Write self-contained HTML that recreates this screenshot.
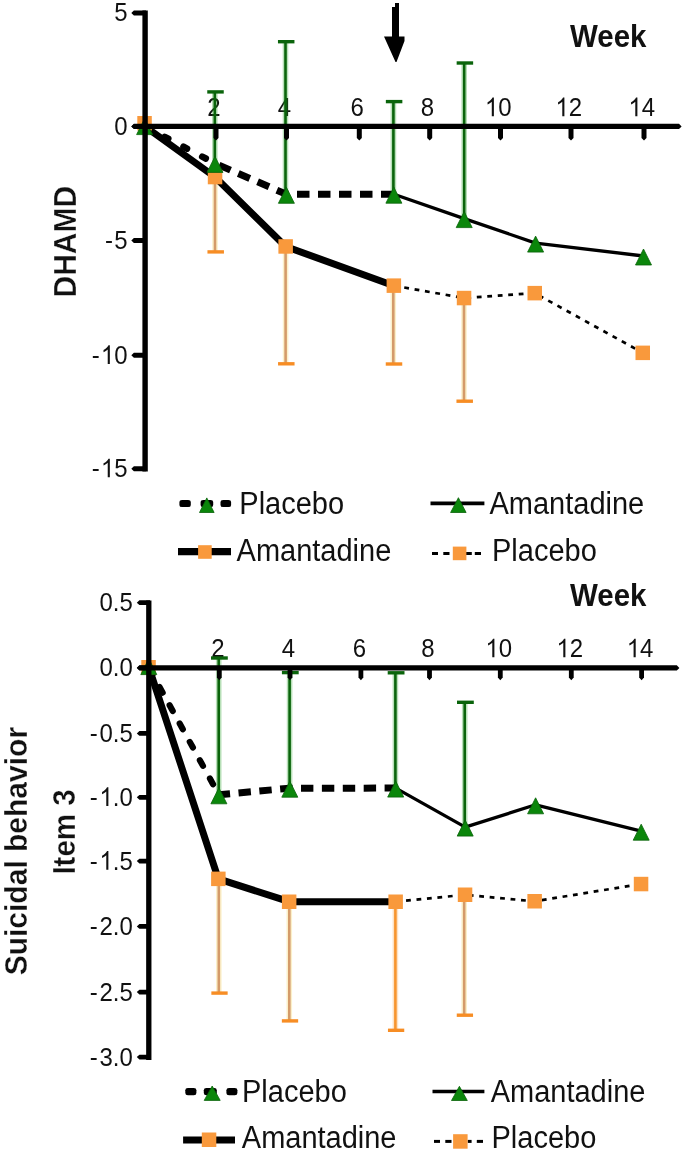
<!DOCTYPE html>
<html><head><meta charset="utf-8"><style>
html,body{margin:0;padding:0;background:#fff;width:685px;height:1154px;overflow:hidden;}
svg{display:block;will-change:transform;}
text{font-family:"Liberation Sans",sans-serif;}
</style></head><body>
<svg width="685" height="1154" viewBox="0 0 685 1154">
<rect width="685" height="1154" fill="#fff"/>
<path transform="translate(628.45 116.2) scale(0.01172,-0.01266)" d="M763 0L583 0L583 1147Q518 1085 412 1023Q307 961 223 930L223 1104Q374 1175 487 1276Q600 1377 647 1472L763 1472Z" fill="#111"/><text transform="translate(641.8 116.2) scale(1.0,1.08)" font-size="24" text-anchor="start" fill="#111">4</text>
<path transform="translate(555.45 116.2) scale(0.01172,-0.01266)" d="M763 0L583 0L583 1147Q518 1085 412 1023Q307 961 223 930L223 1104Q374 1175 487 1276Q600 1377 647 1472L763 1472Z" fill="#111"/><text transform="translate(568.8 116.2) scale(1.0,1.08)" font-size="24" text-anchor="start" fill="#111">2</text>
<path transform="translate(484.95 116.2) scale(0.01172,-0.01266)" d="M763 0L583 0L583 1147Q518 1085 412 1023Q307 961 223 930L223 1104Q374 1175 487 1276Q600 1377 647 1472L763 1472Z" fill="#111"/><text transform="translate(498.3 116.2) scale(1.0,1.08)" font-size="24" text-anchor="start" fill="#111">0</text>
<text transform="translate(420.83 116.2) scale(1.0,1.08)" font-size="24" text-anchor="start" fill="#111">8</text>
<text transform="translate(350.43 116.2) scale(1.0,1.08)" font-size="24" text-anchor="start" fill="#111">6</text>
<text transform="translate(277.63 116.2) scale(1.0,1.08)" font-size="24" text-anchor="start" fill="#111">4</text>
<text transform="translate(207.13 116.2) scale(1.0,1.08)" font-size="24" text-anchor="start" fill="#111">2</text>
<line x1="214.8" y1="164.4" x2="214.8" y2="91.9" stroke="#1f9a1f" stroke-opacity="0.32" stroke-width="5.6"/><line x1="214.8" y1="164.4" x2="214.8" y2="91.9" stroke="#0a640b" stroke-width="2.6"/><line x1="207.25" y1="91.9" x2="223.75" y2="91.9" stroke="#0a640b" stroke-width="3.4"/>
<line x1="285.5" y1="195.3" x2="285.5" y2="41.7" stroke="#1f9a1f" stroke-opacity="0.32" stroke-width="5.6"/><line x1="285.5" y1="195.3" x2="285.5" y2="41.7" stroke="#0a640b" stroke-width="2.6"/><line x1="277.95" y1="41.7" x2="294.45" y2="41.7" stroke="#0a640b" stroke-width="3.4"/>
<line x1="393.4" y1="195.2" x2="393.4" y2="101.6" stroke="#1f9a1f" stroke-opacity="0.32" stroke-width="5.6"/><line x1="393.4" y1="195.2" x2="393.4" y2="101.6" stroke="#0a640b" stroke-width="2.6"/><line x1="385.85" y1="101.6" x2="402.35" y2="101.6" stroke="#0a640b" stroke-width="3.4"/>
<line x1="464.2" y1="219.6" x2="464.2" y2="63" stroke="#1f9a1f" stroke-opacity="0.32" stroke-width="5.6"/><line x1="464.2" y1="219.6" x2="464.2" y2="63" stroke="#0a640b" stroke-width="2.6"/><line x1="456.65" y1="63" x2="473.15" y2="63" stroke="#0a640b" stroke-width="3.4"/>
<line x1="215" y1="177" x2="215" y2="251.9" stroke="#f2cc50" stroke-opacity="0.3" stroke-width="5.6"/><line x1="215" y1="177" x2="215" y2="251.9" stroke="#d49b6a" stroke-width="2.6"/><line x1="207.45" y1="251.9" x2="223.95" y2="251.9" stroke="#f78d24" stroke-width="3.4"/>
<line x1="285.6" y1="246.5" x2="285.6" y2="363.8" stroke="#f2cc50" stroke-opacity="0.3" stroke-width="5.6"/><line x1="285.6" y1="246.5" x2="285.6" y2="363.8" stroke="#d49b6a" stroke-width="2.6"/><line x1="278.05" y1="363.8" x2="294.55" y2="363.8" stroke="#f78d24" stroke-width="3.4"/>
<line x1="393.3" y1="285.7" x2="393.3" y2="364" stroke="#f2cc50" stroke-opacity="0.3" stroke-width="5.6"/><line x1="393.3" y1="285.7" x2="393.3" y2="364" stroke="#d49b6a" stroke-width="2.6"/><line x1="385.75" y1="364" x2="402.25" y2="364" stroke="#f78d24" stroke-width="3.4"/>
<line x1="464" y1="298" x2="464" y2="401.2" stroke="#f2cc50" stroke-opacity="0.3" stroke-width="5.6"/><line x1="464" y1="298" x2="464" y2="401.2" stroke="#d49b6a" stroke-width="2.6"/><line x1="456.45" y1="401.2" x2="472.95" y2="401.2" stroke="#f78d24" stroke-width="3.4"/>
<polyline points="145.0,126.5 215.0,163.4" fill="none" stroke="#000" stroke-width="6.6" stroke-linejoin="round" stroke-linecap="round" stroke-dasharray="4 17.2" stroke-dashoffset="-1.1"/>
<polyline points="215.0,163.4 286.4,194.3 393.9,194.2" fill="none" stroke="#000" stroke-width="7" stroke-linejoin="round" stroke-linecap="butt" stroke-dasharray="12.5 8.5" stroke-dashoffset="16.6"/>
<polyline points="393.9,194.2 464.2,218.6 535.6,243.1 643.5,256.0" fill="none" stroke="#000" stroke-width="3.3" stroke-linejoin="round" stroke-linecap="butt"/>
<polyline points="145.0,126.5 215.0,177.0 285.6,246.5 393.9,285.7" fill="none" stroke="#000" stroke-width="7" stroke-linejoin="round" stroke-linecap="butt"/>
<polyline points="393.9,285.7 464.0,298.0 534.7,293.1 642.8,352.8" fill="none" stroke="#000" stroke-width="2.7" stroke-linejoin="round" stroke-linecap="butt" stroke-dasharray="4.8 5.7"/>
<rect x="137.3" y="116.0" width="14.5" height="14.5" fill="#f9993c"/>
<rect x="207.8" y="169.8" width="14.5" height="14.5" fill="#f9993c"/>
<rect x="278.4" y="239.2" width="14.5" height="14.5" fill="#f9993c"/>
<rect x="386.6" y="278.4" width="14.5" height="14.5" fill="#f9993c"/>
<rect x="456.8" y="290.8" width="14.5" height="14.5" fill="#f9993c"/>
<rect x="527.5" y="285.9" width="14.5" height="14.5" fill="#f9993c"/>
<rect x="635.5" y="345.6" width="14.5" height="14.5" fill="#f9993c"/>
<polygon points="144.6,118.6 136.6,134.6 152.6,134.6" fill="#0b860b" stroke="#096209" stroke-width="0.8" stroke-linejoin="miter"/>
<polygon points="215.0,156.4 207.0,172.4 223.0,172.4" fill="#0b860b" stroke="#096209" stroke-width="0.8" stroke-linejoin="miter"/>
<polygon points="286.4,187.3 278.4,203.3 294.4,203.3" fill="#0b860b" stroke="#096209" stroke-width="0.8" stroke-linejoin="miter"/>
<polygon points="393.9,187.2 385.9,203.2 401.9,203.2" fill="#0b860b" stroke="#096209" stroke-width="0.8" stroke-linejoin="miter"/>
<polygon points="464.2,211.6 456.2,227.6 472.2,227.6" fill="#0b860b" stroke="#096209" stroke-width="0.8" stroke-linejoin="miter"/>
<polygon points="535.6,236.1 527.6,252.1 543.6,252.1" fill="#0b860b" stroke="#096209" stroke-width="0.8" stroke-linejoin="miter"/>
<polygon points="643.5,249.0 635.5,265.0 651.5,265.0" fill="#0b860b" stroke="#096209" stroke-width="0.8" stroke-linejoin="miter"/>
<line x1="145.1" y1="10.6" x2="145.1" y2="471.6" stroke="#000" stroke-width="5.4"/>
<path d="M133.90,123.80 L679.00,123.80 L681.60,126.40 L679.00,129.00 L133.90,129.00 L131.30,126.40 Z" fill="#000"/>
<path d="M146,10.55 L146,15.45 L133.90,15.45 L131.30,13.00 L133.90,10.55 Z" fill="#000"/>
<text transform="translate(114.25 20.6) scale(1.0,1.08)" font-size="24" text-anchor="start" fill="#111">5</text>
<path d="M146,123.95 L146,128.85 L133.90,128.85 L131.30,126.40 L133.90,123.95 Z" fill="#000"/>
<text transform="translate(114.25 135.0) scale(1.0,1.08)" font-size="24" text-anchor="start" fill="#111">0</text>
<path d="M146,238.05 L146,242.95 L133.90,242.95 L131.30,240.50 L133.90,238.05 Z" fill="#000"/>
<text transform="translate(105.06 249.1) scale(1.0,1.08)" font-size="24" text-anchor="start" fill="#111">-</text><text transform="translate(114.25 249.1) scale(1.0,1.08)" font-size="24" text-anchor="start" fill="#111">5</text>
<path d="M146,352.85 L146,357.75 L133.90,357.75 L131.30,355.30 L133.90,352.85 Z" fill="#000"/>
<text transform="translate(91.71 363.90000000000003) scale(1.0,1.08)" font-size="24" text-anchor="start" fill="#111">-</text><path transform="translate(100.90 363.90000000000003) scale(0.01172,-0.01266)" d="M763 0L583 0L583 1147Q518 1085 412 1023Q307 961 223 930L223 1104Q374 1175 487 1276Q600 1377 647 1472L763 1472Z" fill="#111"/><text transform="translate(114.25 363.90000000000003) scale(1.0,1.08)" font-size="24" text-anchor="start" fill="#111">0</text>
<path d="M146,466.25 L146,471.15 L133.90,471.15 L131.30,468.70 L133.90,466.25 Z" fill="#000"/>
<text transform="translate(91.71 477.3) scale(1.0,1.08)" font-size="24" text-anchor="start" fill="#111">-</text><path transform="translate(100.90 477.3) scale(0.01172,-0.01266)" d="M763 0L583 0L583 1147Q518 1085 412 1023Q307 961 223 930L223 1104Q374 1175 487 1276Q600 1377 647 1472L763 1472Z" fill="#111"/><text transform="translate(114.25 477.3) scale(1.0,1.08)" font-size="24" text-anchor="start" fill="#111">5</text>
<path d="M213.50,126 L218.50,126 L218.50,138.00 L216.00,140.60 L213.50,138.00 Z" fill="#000"/>
<path d="M284.00,126 L289.00,126 L289.00,138.00 L286.50,140.60 L284.00,138.00 Z" fill="#000"/>
<path d="M356.80,126 L361.80,126 L361.80,138.00 L359.30,140.60 L356.80,138.00 Z" fill="#000"/>
<path d="M427.20,126 L432.20,126 L432.20,138.00 L429.70,140.60 L427.20,138.00 Z" fill="#000"/>
<path d="M498.00,126 L503.00,126 L503.00,138.00 L500.50,140.60 L498.00,138.00 Z" fill="#000"/>
<path d="M568.50,126 L573.50,126 L573.50,138.00 L571.00,140.60 L568.50,138.00 Z" fill="#000"/>
<path d="M641.50,126 L646.50,126 L646.50,138.00 L644.00,140.60 L641.50,138.00 Z" fill="#000"/>
<text transform="translate(570 47.3) scale(1.0,1.06)" font-size="29.5" text-anchor="start" font-weight="bold" fill="#111">Week</text>
<text transform="translate(76 297.5) rotate(-90) scale(1.0,1.07)" font-size="30" text-anchor="start" font-weight="bold" stroke="#fff" stroke-width="0.3" fill="#111">DHAMD</text>
<path d="M392,7 L395,7 L395,3 L399,3 L399,36.5 L404.5,36.5 L404.5,41 L396.5,62 L395.5,62 L384,36.5 L392,36.5 Z" fill="#000"/>
<rect x="179.4" y="499.90" width="11.40" height="7.2" rx="2.6" ry="2.2" fill="#000"/>
<rect x="200.6" y="499.90" width="12.60" height="7.2" rx="2.6" ry="2.2" fill="#000"/>
<rect x="220.5" y="499.90" width="10.60" height="7.2" rx="2.6" ry="2.2" fill="#000"/>
<polygon points="206.8,497.9 199.5,512.5 214.1,512.5" fill="#0b860b" stroke="#096209" stroke-width="0.8" stroke-linejoin="miter"/>
<text transform="translate(239.3 514) scale(1.0,1.05)" font-size="29" text-anchor="start" fill="#111">Placebo</text>
<line x1="430.5" y1="503.4" x2="484.4" y2="503.4" stroke="#000" stroke-width="3.6"/>
<polygon points="458.4,497.7 450.6,512.5 466.1,512.5" fill="#0b860b" stroke="#096209" stroke-width="0.8" stroke-linejoin="miter"/>
<text transform="translate(489.5 514) scale(1.0,1.05)" font-size="29" text-anchor="start" fill="#111">Amantadine</text>
<line x1="178" y1="551.7" x2="231" y2="551.7" stroke="#000" stroke-width="7.2"/>
<rect x="198.1" y="545.2" width="13.6" height="13.6" fill="#f9993c"/>
<text transform="translate(236.6 561.3) scale(1.0,1.05)" font-size="29" text-anchor="start" fill="#111">Amantadine</text>
<line x1="432" y1="553.5" x2="438" y2="553.5" stroke="#000" stroke-width="3.0"/>
<line x1="443.3" y1="553.5" x2="449.5" y2="553.5" stroke="#000" stroke-width="3.0"/>
<line x1="465.7" y1="553.5" x2="471.8" y2="553.5" stroke="#000" stroke-width="3.0"/>
<line x1="474.8" y1="553.5" x2="481" y2="553.5" stroke="#000" stroke-width="3.0"/>
<rect x="452.8" y="546.6" width="13.6" height="13.6" fill="#f9993c"/>
<text transform="translate(492 561.3) scale(1.0,1.05)" font-size="29" text-anchor="start" fill="#111">Placebo</text>
<path transform="translate(626.75 657.3) scale(0.01172,-0.01266)" d="M763 0L583 0L583 1147Q518 1085 412 1023Q307 961 223 930L223 1104Q374 1175 487 1276Q600 1377 647 1472L763 1472Z" fill="#111"/><text transform="translate(640.1 657.3) scale(1.0,1.08)" font-size="24" text-anchor="start" fill="#111">4</text>
<path transform="translate(556.45 657.3) scale(0.01172,-0.01266)" d="M763 0L583 0L583 1147Q518 1085 412 1023Q307 961 223 930L223 1104Q374 1175 487 1276Q600 1377 647 1472L763 1472Z" fill="#111"/><text transform="translate(569.8 657.3) scale(1.0,1.08)" font-size="24" text-anchor="start" fill="#111">2</text>
<path transform="translate(485.45 657.3) scale(0.01172,-0.01266)" d="M763 0L583 0L583 1147Q518 1085 412 1023Q307 961 223 930L223 1104Q374 1175 487 1276Q600 1377 647 1472L763 1472Z" fill="#111"/><text transform="translate(498.8 657.3) scale(1.0,1.08)" font-size="24" text-anchor="start" fill="#111">0</text>
<text transform="translate(421.33 657.3) scale(1.0,1.08)" font-size="24" text-anchor="start" fill="#111">8</text>
<text transform="translate(352.73 657.3) scale(1.0,1.08)" font-size="24" text-anchor="start" fill="#111">6</text>
<text transform="translate(281.83 657.3) scale(1.0,1.08)" font-size="24" text-anchor="start" fill="#111">4</text>
<text transform="translate(211.13 657.3) scale(1.0,1.08)" font-size="24" text-anchor="start" fill="#111">2</text>
<line x1="218.7" y1="795.8" x2="218.7" y2="658" stroke="#1f9a1f" stroke-opacity="0.32" stroke-width="5.6"/><line x1="218.7" y1="795.8" x2="218.7" y2="658" stroke="#0a640b" stroke-width="2.6"/><line x1="211.00" y1="658" x2="227.80" y2="658" stroke="#0a640b" stroke-width="3.4"/>
<line x1="289.6" y1="789.2" x2="289.6" y2="672.6" stroke="#1f9a1f" stroke-opacity="0.32" stroke-width="5.6"/><line x1="289.6" y1="789.2" x2="289.6" y2="672.6" stroke="#0a640b" stroke-width="2.6"/><line x1="281.90" y1="672.6" x2="298.70" y2="672.6" stroke="#0a640b" stroke-width="3.4"/>
<line x1="395.4" y1="789.1" x2="395.4" y2="672.8" stroke="#1f9a1f" stroke-opacity="0.32" stroke-width="5.6"/><line x1="395.4" y1="789.1" x2="395.4" y2="672.8" stroke="#0a640b" stroke-width="2.6"/><line x1="387.70" y1="672.8" x2="404.50" y2="672.8" stroke="#0a640b" stroke-width="3.4"/>
<line x1="464.7" y1="828.1" x2="464.7" y2="702.3" stroke="#1f9a1f" stroke-opacity="0.32" stroke-width="5.6"/><line x1="464.7" y1="828.1" x2="464.7" y2="702.3" stroke="#0a640b" stroke-width="2.6"/><line x1="457.00" y1="702.3" x2="473.80" y2="702.3" stroke="#0a640b" stroke-width="3.4"/>
<line x1="218.8" y1="878.9" x2="218.8" y2="993.1" stroke="#f2cc50" stroke-opacity="0.3" stroke-width="5.6"/><line x1="218.8" y1="878.9" x2="218.8" y2="993.1" stroke="#d49b6a" stroke-width="2.6"/><line x1="211.35" y1="993.1" x2="227.65" y2="993.1" stroke="#f78d24" stroke-width="3.4"/>
<line x1="289.3" y1="901.7" x2="289.3" y2="1020.9" stroke="#f2cc50" stroke-opacity="0.3" stroke-width="5.6"/><line x1="289.3" y1="901.7" x2="289.3" y2="1020.9" stroke="#d49b6a" stroke-width="2.6"/><line x1="281.85" y1="1020.9" x2="298.15" y2="1020.9" stroke="#f78d24" stroke-width="3.4"/>
<line x1="395.4" y1="901.7" x2="395.4" y2="1030.3" stroke="#f7a040" stroke-opacity="0.3" stroke-width="5.6"/><line x1="395.4" y1="901.7" x2="395.4" y2="1030.3" stroke="#f7952e" stroke-width="2.6"/><line x1="387.95" y1="1030.3" x2="404.25" y2="1030.3" stroke="#f78d24" stroke-width="3.4"/>
<line x1="464.2" y1="894.8" x2="464.2" y2="1015.2" stroke="#f2cc50" stroke-opacity="0.3" stroke-width="5.6"/><line x1="464.2" y1="894.8" x2="464.2" y2="1015.2" stroke="#d49b6a" stroke-width="2.6"/><line x1="456.75" y1="1015.2" x2="473.05" y2="1015.2" stroke="#f78d24" stroke-width="3.4"/>
<polyline points="149.0,667.8 218.9,794.8" fill="none" stroke="#000" stroke-width="6.2" stroke-linejoin="round" stroke-linecap="round" stroke-dasharray="6.5 14.4" stroke-dashoffset="-0.95"/>
<polyline points="218.9,794.8 289.8,788.2 395.7,788.1" fill="none" stroke="#000" stroke-width="7" stroke-linejoin="round" stroke-linecap="butt" stroke-dasharray="12.4 8.5" stroke-dashoffset="1.2"/>
<polyline points="395.7,788.1 465.2,827.1 535.6,804.8 641.2,831.2" fill="none" stroke="#000" stroke-width="3.3" stroke-linejoin="round" stroke-linecap="butt"/>
<polyline points="149.0,667.8 218.3,878.9 289.2,901.7 395.6,901.7" fill="none" stroke="#000" stroke-width="7" stroke-linejoin="round" stroke-linecap="butt"/>
<polyline points="395.6,901.7 465.0,894.8 534.6,901.3 641.0,884.0" fill="none" stroke="#000" stroke-width="2.7" stroke-linejoin="round" stroke-linecap="butt" stroke-dasharray="4.8 5.7"/>
<rect x="141.3" y="660.0" width="14.5" height="14.5" fill="#f9993c"/>
<rect x="211.1" y="871.6" width="14.5" height="14.5" fill="#f9993c"/>
<rect x="281.9" y="894.5" width="14.5" height="14.5" fill="#f9993c"/>
<rect x="388.4" y="894.5" width="14.5" height="14.5" fill="#f9993c"/>
<rect x="457.8" y="887.5" width="14.5" height="14.5" fill="#f9993c"/>
<rect x="527.4" y="894.0" width="14.5" height="14.5" fill="#f9993c"/>
<rect x="633.8" y="876.8" width="14.5" height="14.5" fill="#f9993c"/>
<polygon points="148.8,658.6 140.8,674.6 156.8,674.6" fill="#0b860b" stroke="#096209" stroke-width="0.8" stroke-linejoin="miter"/>
<polygon points="218.9,787.8 210.9,803.8 226.9,803.8" fill="#0b860b" stroke="#096209" stroke-width="0.8" stroke-linejoin="miter"/>
<polygon points="289.8,781.2 281.8,797.2 297.8,797.2" fill="#0b860b" stroke="#096209" stroke-width="0.8" stroke-linejoin="miter"/>
<polygon points="395.7,781.1 387.7,797.1 403.7,797.1" fill="#0b860b" stroke="#096209" stroke-width="0.8" stroke-linejoin="miter"/>
<polygon points="465.2,820.1 457.2,836.1 473.2,836.1" fill="#0b860b" stroke="#096209" stroke-width="0.8" stroke-linejoin="miter"/>
<polygon points="535.6,797.8 527.6,813.8 543.6,813.8" fill="#0b860b" stroke="#096209" stroke-width="0.8" stroke-linejoin="miter"/>
<polygon points="641.2,824.2 633.2,840.2 649.2,840.2" fill="#0b860b" stroke="#096209" stroke-width="0.8" stroke-linejoin="miter"/>
<line x1="148.8" y1="600.5" x2="148.8" y2="1060" stroke="#000" stroke-width="5.3"/>
<path d="M139.40,665.25 L676.80,665.25 L679.40,667.90 L676.80,670.55 L139.40,670.55 L136.80,667.90 Z" fill="#000"/>
<path d="M150,600.30 L150,605.10 L139.40,605.10 L136.80,602.70 L139.40,600.30 Z" fill="#000"/>
<text transform="translate(99.44 611.3000000000001) scale(1.0,1.08)" font-size="24" text-anchor="start" fill="#111">0.5</text>
<path d="M150,665.40 L150,670.20 L139.40,670.20 L136.80,667.80 L139.40,665.40 Z" fill="#000"/>
<text transform="translate(99.44 676.4) scale(1.0,1.08)" font-size="24" text-anchor="start" fill="#111">0.0</text>
<path d="M150,731.00 L150,735.80 L139.40,735.80 L136.80,733.40 L139.40,731.00 Z" fill="#000"/>
<text transform="translate(89.84 742.0) scale(1.0,1.08)" font-size="24" text-anchor="start" fill="#111">-</text><text transform="translate(99.44 742.0) scale(1.0,1.08)" font-size="24" text-anchor="start" fill="#111">0.5</text>
<path d="M150,794.90 L150,799.70 L139.40,799.70 L136.80,797.30 L139.40,794.90 Z" fill="#000"/>
<text transform="translate(89.84 805.9) scale(1.0,1.08)" font-size="24" text-anchor="start" fill="#111">-</text><path transform="translate(99.44 805.9) scale(0.01172,-0.01266)" d="M763 0L583 0L583 1147Q518 1085 412 1023Q307 961 223 930L223 1104Q374 1175 487 1276Q600 1377 647 1472L763 1472Z" fill="#111"/><text transform="translate(112.78 805.9) scale(1.0,1.08)" font-size="24" text-anchor="start" fill="#111">.0</text>
<path d="M150,858.70 L150,863.50 L139.40,863.50 L136.80,861.10 L139.40,858.70 Z" fill="#000"/>
<text transform="translate(89.84 869.7) scale(1.0,1.08)" font-size="24" text-anchor="start" fill="#111">-</text><path transform="translate(99.44 869.7) scale(0.01172,-0.01266)" d="M763 0L583 0L583 1147Q518 1085 412 1023Q307 961 223 930L223 1104Q374 1175 487 1276Q600 1377 647 1472L763 1472Z" fill="#111"/><text transform="translate(112.78 869.7) scale(1.0,1.08)" font-size="24" text-anchor="start" fill="#111">.5</text>
<path d="M150,924.00 L150,928.80 L139.40,928.80 L136.80,926.40 L139.40,924.00 Z" fill="#000"/>
<text transform="translate(89.84 935.0) scale(1.0,1.08)" font-size="24" text-anchor="start" fill="#111">-</text><text transform="translate(99.44 935.0) scale(1.0,1.08)" font-size="24" text-anchor="start" fill="#111">2.0</text>
<path d="M150,989.70 L150,994.50 L139.40,994.50 L136.80,992.10 L139.40,989.70 Z" fill="#000"/>
<text transform="translate(89.84 1000.7) scale(1.0,1.08)" font-size="24" text-anchor="start" fill="#111">-</text><text transform="translate(99.44 1000.7) scale(1.0,1.08)" font-size="24" text-anchor="start" fill="#111">2.5</text>
<path d="M150,1054.70 L150,1059.50 L139.40,1059.50 L136.80,1057.10 L139.40,1054.70 Z" fill="#000"/>
<text transform="translate(89.84 1065.6999999999998) scale(1.0,1.08)" font-size="24" text-anchor="start" fill="#111">-</text><text transform="translate(99.44 1065.6999999999998) scale(1.0,1.08)" font-size="24" text-anchor="start" fill="#111">3.0</text>
<path d="M216.90,667 L221.70,667 L221.70,677.60 L219.30,680.20 L216.90,677.60 Z" fill="#000"/>
<path d="M287.60,667 L292.40,667 L292.40,677.60 L290.00,680.20 L287.60,677.60 Z" fill="#000"/>
<path d="M358.50,667 L363.30,667 L363.30,677.60 L360.90,680.20 L358.50,677.60 Z" fill="#000"/>
<path d="M427.10,667 L431.90,667 L431.90,677.60 L429.50,680.20 L427.10,677.60 Z" fill="#000"/>
<path d="M497.90,667 L502.70,667 L502.70,677.60 L500.30,680.20 L497.90,677.60 Z" fill="#000"/>
<path d="M568.90,667 L573.70,667 L573.70,677.60 L571.30,680.20 L568.90,677.60 Z" fill="#000"/>
<path d="M639.20,667 L644.00,667 L644.00,677.60 L641.60,680.20 L639.20,677.60 Z" fill="#000"/>
<text transform="translate(570 605.6) scale(1.0,1.06)" font-size="29.5" text-anchor="start" font-weight="bold" fill="#111">Week</text>
<text transform="translate(27.3 975.3) rotate(-90) scale(1.0,1.06)" font-size="30" text-anchor="start" font-weight="bold" stroke="#fff" stroke-width="0.3" fill="#111">Suicidal behavior</text>
<text transform="translate(75.2 874.6) rotate(-90) scale(1.0,1.06)" font-size="29.5" text-anchor="start" font-weight="bold" stroke="#fff" stroke-width="0.3" fill="#111">Item 3</text>
<rect x="185.3" y="1088.00" width="11.10" height="7.2" rx="2.6" ry="2.2" fill="#000"/>
<rect x="203.8" y="1088.00" width="13.00" height="7.2" rx="2.6" ry="2.2" fill="#000"/>
<rect x="226.4" y="1088.00" width="11.00" height="7.2" rx="2.6" ry="2.2" fill="#000"/>
<polygon points="212.2,1086.0 204.2,1100.4 220.2,1100.4" fill="#0b860b" stroke="#096209" stroke-width="0.8" stroke-linejoin="miter"/>
<text transform="translate(242 1102.3) scale(1.0,1.05)" font-size="29" text-anchor="start" fill="#111">Placebo</text>
<line x1="432.5" y1="1091.5" x2="484.4" y2="1091.5" stroke="#000" stroke-width="3.6"/>
<polygon points="459.4,1086.3 451.5,1100.5 467.3,1100.5" fill="#0b860b" stroke="#096209" stroke-width="0.8" stroke-linejoin="miter"/>
<text transform="translate(490.7 1102.3) scale(1.0,1.05)" font-size="29" text-anchor="start" fill="#111">Amantadine</text>
<line x1="183.1" y1="1140" x2="235" y2="1140" stroke="#000" stroke-width="7.2"/>
<rect x="201.8" y="1132.5" width="14.5" height="14.5" fill="#f9993c"/>
<text transform="translate(241.8 1148.4) scale(1.0,1.05)" font-size="29" text-anchor="start" fill="#111">Amantadine</text>
<line x1="434" y1="1141.4" x2="440" y2="1141.4" stroke="#000" stroke-width="3.0"/>
<line x1="445.3" y1="1141.4" x2="451.5" y2="1141.4" stroke="#000" stroke-width="3.0"/>
<line x1="467.7" y1="1141.4" x2="471.6" y2="1141.4" stroke="#000" stroke-width="3.0"/>
<line x1="476.8" y1="1141.4" x2="483" y2="1141.4" stroke="#000" stroke-width="3.0"/>
<rect x="453.1" y="1134.2" width="14.5" height="14.5" fill="#f9993c"/>
<text transform="translate(491.5 1148.4) scale(1.0,1.05)" font-size="29" text-anchor="start" fill="#111">Placebo</text>
</svg>
</body></html>
